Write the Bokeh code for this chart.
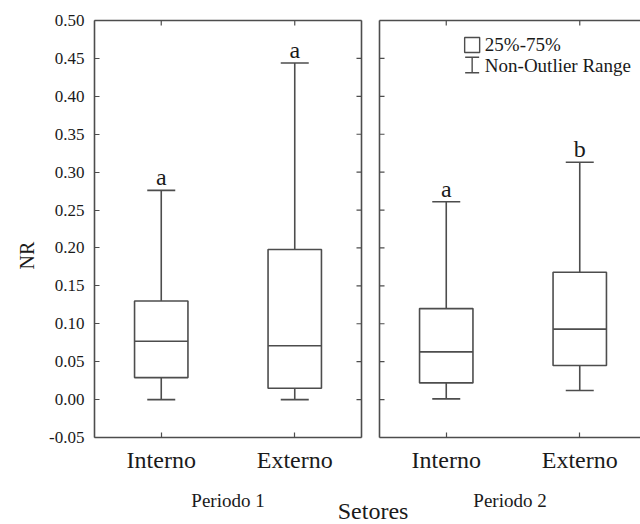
from math import pi

from bokeh.core.properties import value
from bokeh.embed import file_html
from bokeh.layouts import column, row
from bokeh.models import (ColumnDataSource, FixedTicker, Label, LinearAxis,
                          NumeralTickFormatter, Range1d, TeeHead, Whisker)
from bokeh.plotting import figure
from bokeh.resources import INLINE

# ---- data -------------------------------------------------------------
categories = ["Interno", "Externo"]
periods = ["Periodo 1", "Periodo 2"]
y_ticks = [-0.05, 0.00, 0.05, 0.10, 0.15, 0.20, 0.25, 0.30, 0.35, 0.40, 0.45, 0.50]

# Periodo 1: non-outlier min, Q1, median, Q3, non-outlier max
p1_low = [0.000, 0.000]
p1_q1 = [0.029, 0.015]
p1_median = [0.077, 0.071]
p1_q3 = [0.130, 0.198]
p1_high = [0.276, 0.444]
p1_groups = ["a", "a"]

# Periodo 2
p2_low = [0.001, 0.012]
p2_q1 = [0.022, 0.045]
p2_median = [0.063, 0.093]
p2_q3 = [0.120, 0.168]
p2_high = [0.261, 0.313]
p2_groups = ["a", "b"]

# ---- style ------------------------------------------------------------
FONT = "Liberation Serif"
INK = "#4d4d4d"
TEXT = "#1a1a1a"
LW = 1.6
BOX_W = 0.4
CAP_PX = 28
PANEL_H = 513


def edge_axis():
    """A bare frame edge: axis line only, no ticks or labels."""
    return LinearAxis(ticker=FixedTicker(ticks=[]),
                      major_tick_in=0, major_tick_out=0,
                      minor_tick_in=0, minor_tick_out=0,
                      axis_line_color=INK, axis_line_width=LW)


def labelled_axis(ticker, size, **kw):
    return LinearAxis(
        ticker=ticker,
        major_tick_in=5, major_tick_out=0,
        minor_tick_in=0, minor_tick_out=0,
        axis_line_color=INK, axis_line_width=LW,
        major_tick_line_color=INK, major_tick_line_width=1.2,
        major_label_text_font=FONT, major_label_text_font_size=size,
        major_label_text_color=TEXT,
        **kw,
    )


def make_panel(period, low, q1, med, q3, high, groups, first):
    pos = [1, 2]
    x_end = 2.5 if first else 2.455
    p = figure(
        width=370 if first else 270, height=PANEL_H,
        x_range=Range1d(0.5, x_end), y_range=Range1d(-0.05, 0.50),
        x_axis_type=None, y_axis_type=None,
        min_border_left=94 if first else 9,
        min_border_right=9 if first else 0,
        min_border_top=20, min_border_bottom=76,
        output_backend="svg", toolbar_location=None,
    )
    p.outline_line_color = None
    p.background_fill_color = "white"
    p.border_fill_color = "white"

    # left edge: value labels only on the first panel
    if first:
        left = labelled_axis(FixedTicker(ticks=y_ticks), "17px",
                             formatter=NumeralTickFormatter(format="0.00"))
        left.major_label_standoff = 10
        p.add_layout(left, "left")
        p.add_layout(edge_axis(), "right")
        tick_x = x_end
    else:
        p.add_layout(edge_axis(), "left")
        tick_x = 0.5
    p.add_layout(edge_axis(), "above")

    # category axis with the period name underneath
    below = labelled_axis(FixedTicker(ticks=pos), "24px",
                          major_label_overrides={i: c for i, c in zip(pos, categories)})
    below.major_label_standoff = 9
    below.axis_label = period
    below.axis_label_text_font = FONT
    below.axis_label_text_font_style = "normal"
    below.axis_label_text_font_size = "19px"
    below.axis_label_text_color = TEXT
    below.axis_label_standoff = 14
    p.add_layout(below, "below")

    # inward ticks on the unlabelled edges (clipped to the frame)
    p.scatter(x=[tick_x] * len(y_ticks), y=y_ticks, marker="dash", size=10,
              line_color=INK, line_width=1.2)
    p.scatter(x=pos, y=[0.50] * len(pos), marker="dash", angle=pi / 2, size=10,
              line_color=INK, line_width=1.2)

    src = ColumnDataSource(dict(
        x=pos, low=low, q1=q1, median=med, q3=q3, high=high, group=groups,
        x0=[v - BOX_W / 2 for v in pos], x1=[v + BOX_W / 2 for v in pos],
    ))

    p.add_layout(Whisker(
        source=src, base="x", lower="low", upper="high", dimension="height",
        level="underlay", line_color=INK, line_width=LW,
        upper_head=TeeHead(size=CAP_PX, line_color=INK, line_width=LW),
        lower_head=TeeHead(size=CAP_PX, line_color=INK, line_width=LW),
    ))
    p.vbar(x="x", bottom="q1", top="q3", width=BOX_W, source=src,
           fill_color="white", line_color=INK, line_width=LW)
    p.segment(x0="x0", y0="median", x1="x1", y1="median", source=src,
              line_color=INK, line_width=LW)
    p.text(x="x", y="high", text="group", source=src, y_offset=-13,
           text_align="center", text_baseline="middle",
           text_font=value(FONT), text_font_size="24px", text_color=TEXT)
    return p


left_panel = make_panel(periods[0], p1_low, p1_q1, p1_median, p1_q3, p1_high,
                        p1_groups, True)
right_panel = make_panel(periods[1], p2_low, p2_q1, p2_median, p2_q3, p2_high,
                         p2_groups, False)

# ---- legend (box and whisker keys) in the right panel -----------------
key_x, key_y_box, key_y_lo, key_y_hi = 1.194, 0.4677, 0.431, 0.4516
lab_x, lab_y1, lab_y2 = 1.289, 0.4683, 0.4407
right_panel.scatter(x=[key_x], y=[key_y_box], marker="square", size=15,
                    fill_color="white", line_color=INK, line_width=1.4)
right_panel.add_layout(Whisker(
    source=ColumnDataSource(dict(b=[key_x], lo=[key_y_lo], hi=[key_y_hi])),
    base="b", lower="lo", upper="hi", dimension="height",
    line_color=INK, line_width=1.4,
    upper_head=TeeHead(size=14, line_color=INK, line_width=1.4),
    lower_head=TeeHead(size=14, line_color=INK, line_width=1.4),
))
for ty, txt in ((lab_y1, "25%-75%"), (lab_y2, "Non-Outlier Range")):
    right_panel.add_layout(Label(
        x=lab_x, y=ty, text=txt, text_font=FONT, text_font_size="19px",
        text_color=TEXT, text_align="left", text_baseline="middle"))

# ---- shared titles drawn on a transparent overlay ---------------------
overlay = figure(
    width=640, height=524, x_range=Range1d(0, 640), y_range=Range1d(0, 524),
    x_axis_type=None, y_axis_type=None, min_border=0,
    output_backend="svg", toolbar_location=None,
    margin=(-PANEL_H, 0, 0, 0),
)
overlay.outline_line_color = None
overlay.background_fill_alpha = 0
overlay.border_fill_alpha = 0
overlay.add_layout(Label(x=26, y=269, text="NR", angle=pi / 2,
                         text_font=FONT, text_font_size="20px", text_color=TEXT,
                         text_align="center", text_baseline="middle"))
overlay.add_layout(Label(x=372.6, y=14, text="Setores",
                         text_font=FONT, text_font_size="24px", text_color=TEXT,
                         text_align="center", text_baseline="middle"))

layout = column(row(left_panel, right_panel), overlay)

open("out.html", "w").write(file_html(layout, INLINE))
